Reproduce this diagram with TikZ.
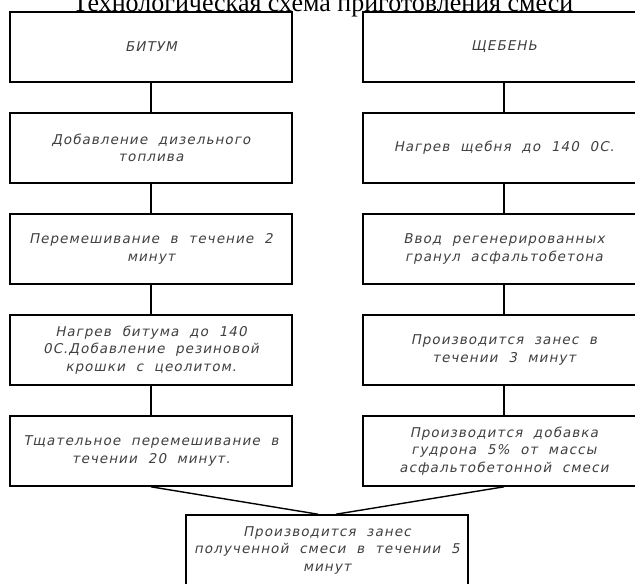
\documentclass[tikz,border=0pt]{standalone}
\usepackage{fontspec}
\setmainfont{Liberation Serif}
\newfontfamily\gost[LetterSpace=8, FakeSlant=0.2, WordSpace=2]{DejaVu Sans}
\usetikzlibrary{positioning}
\tikzstyle{block} = [draw, rectangle, line width=1.6pt, minimum width=282pt, minimum height=70pt, align=center, inner sep=0pt, text=black!75, font=\gost\fontsize{13.5}{17.5}\selectfont]
\tikzstyle{wire} = [line width=1.4pt]

\begin{document}
\begin{tikzpicture}[x=1pt, y=-1pt]
    \useasboundingbox (0,0) rectangle (635,584);
    \clip (0,0) rectangle (635,584);
    \node[anchor=base, font=\fontsize{26}{28}\selectfont] (title) at (323,11) {Технологическая схема приготовления смеси};

    \node[block] (bit) at (151,47) {БИТУМ};
    \node[block, below of=bit, node distance=101pt] (dop) {Добавление дизельного\\топлива};
    \node[block, below of=dop, node distance=101pt] (mix) {Перемешивание в течение 2\\минут};
    \node[block, below of=mix, node distance=101pt] (heat) {Нагрев битума до 140\\0С.Добавление резиновой\\крошки с цеолитом.};
    \node[block, below of=heat, node distance=101pt] (stir) {Тщательное перемешивание в\\течении 20 минут.};

    \node[block] (sheb) at (504,47) {ЩЕБЕНЬ};
    \node[block, below of=sheb, node distance=101pt] (sheat) {Нагрев щебня до 140 0С.};
    \node[block, below of=sheat, node distance=101pt] (gran) {Ввод регенерированных\\гранул асфальтобетона};
    \node[block, below of=gran, node distance=101pt] (zanes) {Производится занес в\\течении 3 минут};
    \node[block, below of=zanes, node distance=101pt] (gudr) {Производится добавка\\гудрона 5\% от массы\\асфальтобетонной смеси};

    \node[block] (final) at (327,550) {Производится занес\\полученной смеси в течении 5\\минут};

    \draw[wire] (bit) -- (dop);
    \draw[wire] (dop) -- (mix);
    \draw[wire] (mix) -- (heat);
    \draw[wire] (heat) -- (stir);
    \draw[wire] (sheb) -- (sheat);
    \draw[wire] (sheat) -- (gran);
    \draw[wire] (gran) -- (zanes);
    \draw[wire] (zanes) -- (gudr);
    \draw[wire] (stir.south) -- ([xshift=-9pt]final.north);
    \draw[wire] (gudr.south) -- ([xshift=9pt]final.north);
\end{tikzpicture}
\end{document}
